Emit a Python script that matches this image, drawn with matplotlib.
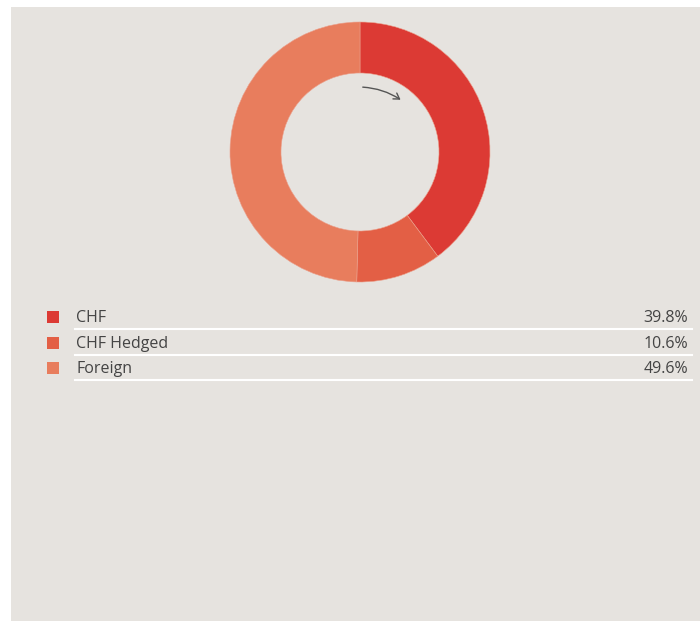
import matplotlib.pyplot as plt
from matplotlib.patches import Rectangle, FancyArrowPatch

# ========== Data ==========
labels = ["CHF", "CHF Hedged", "Foreign"]
values = [39.8, 10.6, 49.6]
colors = ["#dc3a34", "#e35f45", "#e87d5d"]

W, H = 700, 621
bg = "#e6e3df"
text_col = "#444444"

plt.rcParams["font.family"] = ["Open Sans", "DejaVu Sans"]

fig = plt.figure(figsize=(W / 100, H / 100), dpi=100)
fig.patch.set_facecolor("white")

# background panel (pixel coords)
fig.patches.append(Rectangle((11 / W, 0), (W - 11) / W, (H - 7) / H,
                             transform=fig.transFigure, facecolor=bg,
                             edgecolor="none", zorder=-5))

# ========== Donut ==========
cx, cy, r = 360, 152, 130
ax = fig.add_axes([(cx - r) / W, 1 - (cy + r) / H, 2 * r / W, 2 * r / H])
ax.set_zorder(2)
ax.pie(values, colors=colors, startangle=90, counterclock=False, radius=1,
       wedgeprops=dict(width=51 / 130, edgecolor="#eba08c", linewidth=0.4))
ax.set_xlim(-1, 1)
ax.set_ylim(-1, 1)
ax.set_aspect("equal")
ax.axis("off")

# direction arrow
arrow = FancyArrowPatch((0.0, 0.50), (0.33, 0.39), connectionstyle="arc3,rad=-0.15",
                        arrowstyle="->,head_length=4,head_width=2.5",
                        color="#555555", lw=1.0, mutation_scale=1)
ax.add_patch(arrow)

# ========== Legend table ==========
row_y = [317, 343, 368]
line_y = [329, 355, 380]
for lab, val, col, ty, ly in zip(labels, values, colors, row_y, line_y):
    fig.patches.append(Rectangle((47 / W, 1 - (ty + 6) / H), 12 / W, 12 / H,
                                 transform=fig.transFigure, facecolor=col,
                                 edgecolor="none"))
    fig.text(76 / W, 1 - (ty + 1) / H, lab, ha="left", va="center",
             fontsize=11.5, color=text_col)
    fig.text(688 / W, 1 - (ty + 1) / H, f"{val:.1f}%", ha="right", va="center",
             fontsize=11.5, color=text_col)
    fig.lines.append(plt.Line2D([75 / W, 692 / W], [1 - ly / H, 1 - ly / H],
                                transform=fig.transFigure, color="white", lw=1.5))

fig.savefig("out.png", dpi=100, facecolor=fig.get_facecolor())
